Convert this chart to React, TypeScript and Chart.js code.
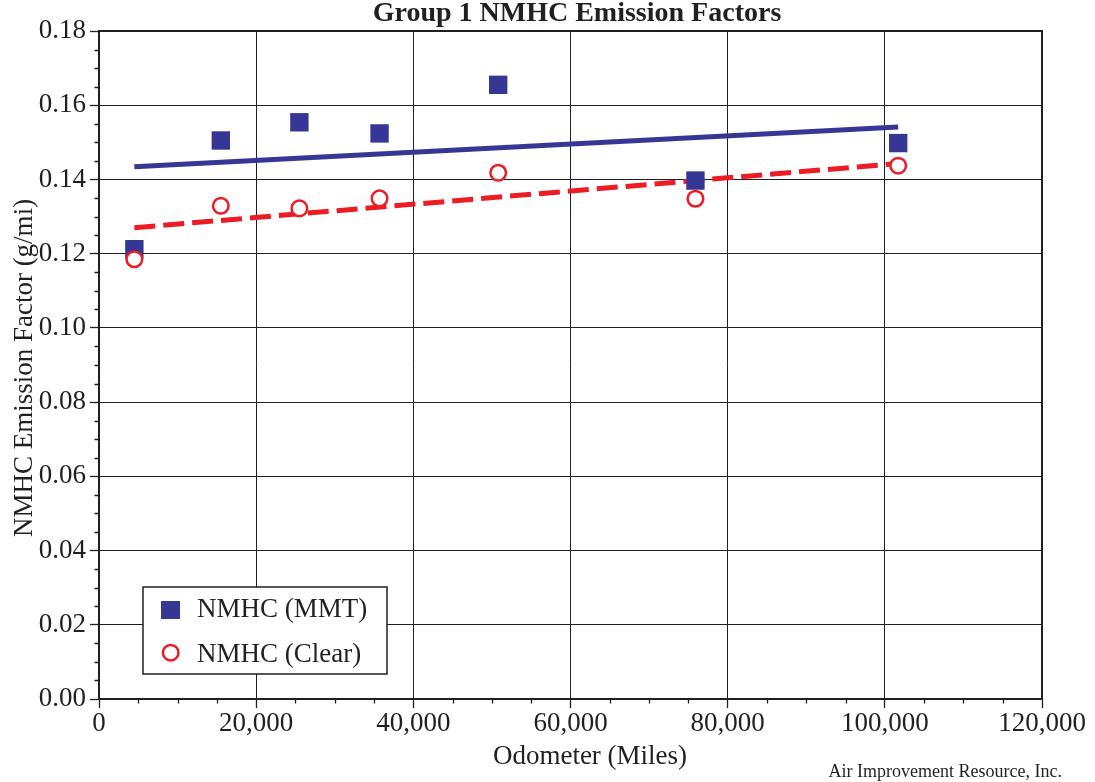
import React, { useEffect, useRef } from 'react';
import { Chart, registerables } from 'chart.js';

Chart.register(...registerables);

// ---- Data ----
const odometerMMT = [4500, 15500, 25500, 35700, 50800, 75900, 101700];
const nmhcMMT = [0.1212, 0.1505, 0.1554, 0.1524, 0.1655, 0.1397, 0.1498];
const odometerClear = [4500, 15500, 25500, 35700, 50800, 75900, 101700];
const nmhcClear = [0.1185, 0.1329, 0.1322, 0.1349, 0.1418, 0.1348, 0.1437];
const trendOdometer = [4500, 101700];
const trendMMT = [0.1434, 0.1541];
const trendClear = [0.127, 0.1443];

const seriesLabels = ['NMHC (MMT)', 'NMHC (Clear)'];
const titleText = 'Group 1 NMHC Emission Factors';
const xTitleText = 'Odometer (Miles)';
const yTitleText = 'NMHC Emission Factor (g/mi)';
const creditText = 'Air Improvement Resource, Inc.';

const xMin = 0;
const xMax = 120000;
const xMajorStep = 20000;
const xMinorStep = 5000;
const yMin = 0;
const yMax = 0.18;
const yMajorStep = 0.02;
const yMinorStep = 0.005;

const BLUE = '#363795';
const RED = '#ed1c24';
const INK = '#231f20';
const FONT = "'Liberation Serif', 'Times New Roman', serif";

const decorPlugin = {
  id: 'decor',
  beforeDatasetsDraw(chart: any) {
    const { ctx, chartArea } = chart;
    const { left, right, top, bottom } = chartArea;
    ctx.save();
    ctx.strokeStyle = INK;
    ctx.lineWidth = 2;
    ctx.strokeRect(left, top, right - left, bottom - top);
    // minor ticks
    ctx.lineWidth = 1.3;
    const xs = chart.scales.x;
    const ys = chart.scales.y;
    ctx.beginPath();
    for (let v = xMin; v <= xMax + 1; v += xMinorStep) {
      if (Math.abs(v / xMajorStep - Math.round(v / xMajorStep)) < 1e-6) continue;
      const px = Math.round(xs.getPixelForValue(v)) + 0.5;
      ctx.moveTo(px, bottom);
      ctx.lineTo(px, bottom + 4.5);
    }
    for (let i = 0; i <= Math.round((yMax - yMin) / yMinorStep); i++) {
      if (i % Math.round(yMajorStep / yMinorStep) === 0) continue;
      const v = yMin + i * yMinorStep;
      const py = Math.round(ys.getPixelForValue(v)) + 0.5;
      ctx.moveTo(left - 4.5, py);
      ctx.lineTo(left, py);
    }
    ctx.stroke();
    ctx.restore();
  },
  afterDraw(chart: any) {
    const { ctx, chartArea } = chart;
    ctx.save();
    ctx.fillStyle = INK;
    // title
    ctx.font = `bold 28px ${FONT}`;
    ctx.textAlign = 'center';
    ctx.textBaseline = 'alphabetic';
    ctx.fillText(titleText, 577, 21);
    // x title
    ctx.font = `27px ${FONT}`;
    ctx.fillText(xTitleText, 590, 764);
    // y title
    ctx.save();
    ctx.translate(25, 368);
    ctx.rotate(-Math.PI / 2);
    ctx.textBaseline = 'middle';
    ctx.fillText(yTitleText, 0, 0);
    ctx.restore();
    // credit
    ctx.font = `18px ${FONT}`;
    ctx.textAlign = 'right';
    ctx.fillText(creditText, 1062, 777);

    // legend
    const bx = 143, by = 587, bw = 244, bh = 87;
    ctx.fillStyle = '#ffffff';
    ctx.fillRect(bx, by, bw, bh);
    ctx.strokeStyle = INK;
    ctx.lineWidth = 1.5;
    ctx.strokeRect(bx, by, bw, bh);
    ctx.fillStyle = BLUE;
    ctx.fillRect(161, 601, 19, 18);
    ctx.beginPath();
    ctx.arc(170.7, 652.7, 7.8, 0, Math.PI * 2);
    ctx.fillStyle = '#ffffff';
    ctx.fill();
    ctx.strokeStyle = RED;
    ctx.lineWidth = 2.5;
    ctx.stroke();
    ctx.fillStyle = INK;
    ctx.font = `27px ${FONT}`;
    ctx.textAlign = 'left';
    ctx.fillText(seriesLabels[0], 197, 617);
    ctx.fillText(seriesLabels[1], 197, 662);
    ctx.restore();
  },
};

export default function App() {
  const canvasRef = useRef<HTMLCanvasElement | null>(null);

  useEffect(() => {
    const canvas = canvasRef.current;
    if (!canvas) return;
    const chart = new Chart(canvas, {
      type: 'scatter',
      data: {
        datasets: [
          {
            label: seriesLabels[1],
            data: odometerClear.map((x, i) => ({ x, y: nmhcClear[i] })),
            pointStyle: 'circle',
            pointRadius: 7.8,
            pointBorderWidth: 2.5,
            pointBackgroundColor: '#ffffff',
            pointBorderColor: RED,
            showLine: false,
            order: 0,
          },
          {
            label: seriesLabels[0],
            data: odometerMMT.map((x, i) => ({ x, y: nmhcMMT[i] })),
            pointStyle: 'rect',
            pointRadius: 13,
            pointBorderWidth: 0,
            pointBackgroundColor: BLUE,
            pointBorderColor: BLUE,
            showLine: false,
            order: 1,
          },
          {
            label: 'Clear trend',
            data: trendOdometer.map((x, i) => ({ x, y: trendClear[i] })),
            showLine: true,
            borderColor: RED,
            borderWidth: 5,
            borderDash: [21, 8],
            pointRadius: 0,
            fill: false,
            order: 2,
          },
          {
            label: 'MMT trend',
            data: trendOdometer.map((x, i) => ({ x, y: trendMMT[i] })),
            showLine: true,
            borderColor: BLUE,
            borderWidth: 5,
            pointRadius: 0,
            fill: false,
            order: 3,
          },
        ],
      },
      options: {
        responsive: false,
        maintainAspectRatio: false,
        animation: false,
        layout: { padding: { left: 0, top: 31, right: 53, bottom: 0 } },
        plugins: {
          legend: { display: false },
          title: { display: false },
          tooltip: { enabled: false },
        },
        scales: {
          x: {
            type: 'linear',
            min: xMin,
            max: xMax,
            afterFit: (s: any) => {
              s.height = 83;
            },
            ticks: {
              stepSize: xMajorStep,
              padding: 0,
              color: INK,
              font: { family: FONT, size: 27 },
              callback: (v: any) => Number(v).toLocaleString('en-US'),
              maxRotation: 0,
              autoSkip: false,
            },
            grid: {
              color: INK,
              lineWidth: 1,
              drawTicks: true,
              tickLength: 9,
              tickColor: INK,
              tickWidth: 1.3,
            },
            border: { color: INK, width: 2 },
          },
          y: {
            type: 'linear',
            min: yMin,
            max: yMax,
            afterFit: (s: any) => {
              s.width = 99;
            },
            ticks: {
              stepSize: yMajorStep,
              padding: 4,
              color: INK,
              font: { family: FONT, size: 27 },
              callback: (v: any) => Number(v).toFixed(2),
              autoSkip: false,
            },
            grid: {
              color: INK,
              lineWidth: 1,
              drawTicks: true,
              tickLength: 9,
              tickColor: INK,
              tickWidth: 1.3,
            },
            border: { color: INK, width: 2 },
          },
        },
      },
      plugins: [decorPlugin],
    });
    return () => chart.destroy();
  }, []);

  return (
    <div style={{ position: 'fixed', left: 0, top: 0, width: 1095, height: 782, background: '#ffffff' }}>
      <canvas ref={canvasRef} width={1095} height={782} style={{ display: 'block' }} />
    </div>
  );
}
